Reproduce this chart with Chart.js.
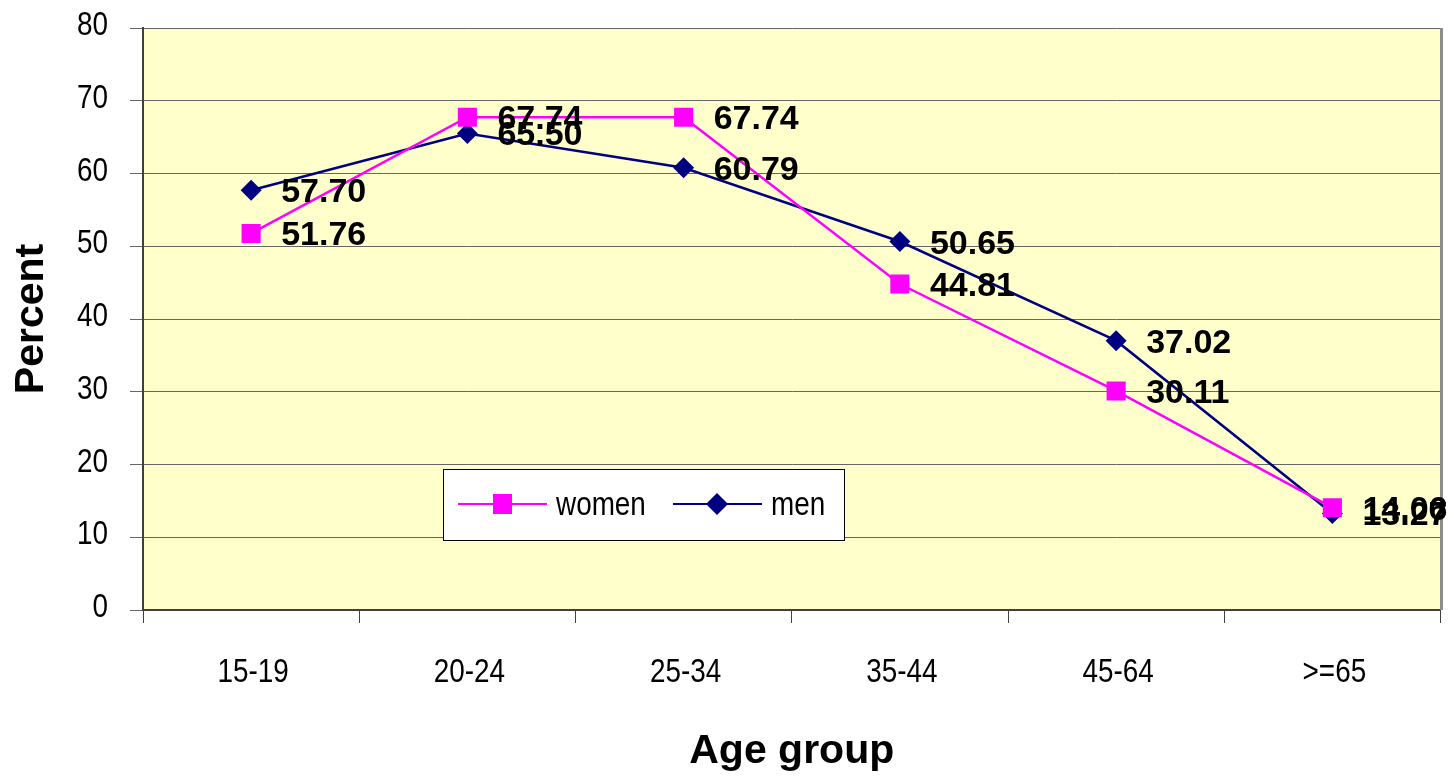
<!DOCTYPE html>
<html>
<head>
<meta charset="utf-8">
<script src="https://cdn.jsdelivr.net/npm/chart.js@4.4.1/dist/chart.umd.min.js"></script>
<style>
    html, body { margin: 0; padding: 0; background: #ffffff; }
    #wrap { width: 1454px; height: 776px; position: relative; }
</style>
</head>
<body>
<div id="wrap"><canvas id="ageChart" width="1454" height="776"></canvas></div>
<script>
const ageGroups = ['15-19', '20-24', '25-34', '35-44', '45-64', '>=65'];
const womenValues = [51.76, 67.74, 67.74, 44.81, 30.11, 14.06];
const menValues = [57.70, 65.50, 60.79, 50.65, 37.02, 13.27];
const yTicks = [0, 10, 20, 30, 40, 50, 60, 70, 80];

const boldFont = '"Liberation Sans", Arial, sans-serif';

// police étroite : Liberation Sans Narrow si présente, sinon Liberation Sans compressée
const probe = document.createElement('canvas').getContext('2d');
probe.font = '34px "Liberation Sans Narrow", monospace';
const wNarrow = probe.measureText('15-19 women').width;
probe.font = '34px monospace';
const wMono = probe.measureText('15-19 women').width;
const hasNarrow = Math.abs(wNarrow - wMono) > 0.5;
const narrowFace = hasNarrow ? '"Liberation Sans Narrow"' : '"Liberation Sans", Arial';
const narrowScale = hasNarrow ? 1 : 0.82;

function narrowText(ctx, text, x, y, align, size) {
    ctx.save();
    ctx.font = size + 'px ' + narrowFace + ', sans-serif';
    ctx.textAlign = align;
    ctx.textBaseline = 'alphabetic';
    ctx.translate(x, y);
    ctx.scale(narrowScale, 1);
    ctx.fillText(text, 0, 0);
    ctx.restore();
}

// fond jaune + bordure droite de la zone de tracé
const plotBackground = {
    id: 'plotBackground',
    beforeDraw(chart) {
        const { ctx, chartArea: a } = chart;
        ctx.save();
        ctx.fillStyle = '#ffffcc';
        ctx.fillRect(a.left, a.top, a.right - a.left, a.bottom - a.top);
        ctx.restore();
    },
    afterDatasetsDraw(chart) {
        const { ctx, chartArea: a } = chart;
        ctx.save();
        ctx.strokeStyle = '#8c8c8c';
        ctx.lineWidth = 3;
        ctx.beginPath();
        ctx.moveTo(a.right + 1, a.top);
        ctx.lineTo(a.right + 1, a.bottom);
        ctx.stroke();
        ctx.restore();
    }
};

// libellés des axes en police étroite
const tickLabels = {
    id: 'tickLabels',
    afterDraw(chart) {
        const ctx = chart.ctx;
        const xs = chart.scales.x, ys = chart.scales.y;
        ctx.save();
        ctx.fillStyle = '#000000';
        yTicks.forEach(v => {
            narrowText(ctx, String(v), xs.left - 35, ys.getPixelForValue(v) + 7, 'right', 34);
        });
        chart.data.labels.forEach((lab, i) => {
            narrowText(ctx, lab, xs.getPixelForValue(i) + 2, xs.top + 72, 'center', 34);
        });
        ctx.restore();
    }
};

// étiquettes de valeurs à droite des points
const valueLabels = {
    id: 'valueLabels',
    afterDatasetsDraw(chart) {
        const ctx = chart.ctx;
        ctx.save();
        ctx.font = 'bold 34px ' + boldFont;
        ctx.fillStyle = '#000000';
        ctx.textAlign = 'left';
        ctx.textBaseline = 'alphabetic';
        chart.data.datasets.forEach((ds, i) => {
            const meta = chart.getDatasetMeta(i);
            meta.data.forEach((pt, j) => {
                ctx.fillText(ds.data[j].toFixed(2), pt.x + 30, pt.y + 12);
            });
        });
        ctx.restore();
    }
};

// légende encadrée dans la zone de tracé
const boxLegend = {
    id: 'boxLegend',
    afterDraw(chart) {
        const { ctx, chartArea: a } = chart;
        const x = a.left + 300, y = a.top + 441, w = 401, h = 71;
        ctx.save();
        ctx.fillStyle = '#ffffff';
        ctx.fillRect(x, y, w, h);
        ctx.strokeStyle = '#000000';
        ctx.lineWidth = 1;
        ctx.strokeRect(x + 0.5, y + 0.5, w, h);
        const cy = y + 35;
        const items = [
            { ds: chart.data.datasets[0], x0: x + 15 },
            { ds: chart.data.datasets[1], x0: x + 230 }
        ];
        items.forEach(it => {
            ctx.strokeStyle = it.ds.borderColor;
            ctx.lineWidth = 2;
            ctx.beginPath();
            ctx.moveTo(it.x0, cy);
            ctx.lineTo(it.x0 + 89, cy);
            ctx.stroke();
            ctx.fillStyle = it.ds.backgroundColor;
            const mx = it.x0 + 44;
            if (it.ds.pointStyle === 'rect') {
                ctx.fillRect(mx - 9, cy - 10, 19, 20);
            } else {
                ctx.beginPath();
                ctx.moveTo(mx, cy - 11);
                ctx.lineTo(mx + 11, cy);
                ctx.lineTo(mx, cy + 11);
                ctx.lineTo(mx - 11, cy);
                ctx.closePath();
                ctx.fill();
            }
            ctx.fillStyle = '#000000';
            narrowText(ctx, it.ds.label, it.x0 + 98, cy + 11, 'left', 34);
        });
        ctx.restore();
    }
};

const ctx = document.getElementById('ageChart').getContext('2d');
const ageChart = new Chart(ctx, {
    type: 'line',
    data: {
        labels: ageGroups,
        datasets: [{
            label: 'women',
            data: womenValues,
            borderColor: '#ff00ff',
            backgroundColor: '#ff00ff',
            borderWidth: 2.5,
            pointStyle: 'rect',
            pointRadius: 13.5,
            pointBorderWidth: 0,
            tension: 0
        }, {
            label: 'men',
            data: menValues,
            borderColor: '#000080',
            backgroundColor: '#000080',
            borderWidth: 2.5,
            pointStyle: 'rectRot',
            pointRadius: 10.5,
            pointBorderWidth: 0,
            tension: 0
        }]
    },
    options: {
        responsive: false,
        animation: false,
        events: [],
        layout: { padding: { top: 28, right: 11, left: 0, bottom: 0 } },
        plugins: {
            legend: { display: false },
            tooltip: { enabled: false }
        },
        scales: {
            x: {
                offset: true,
                grid: {
                    offset: true,
                    drawOnChartArea: false,
                    drawTicks: true,
                    tickLength: 13,
                    color: '#404040'
                },
                border: { color: '#404040', width: 2 },
                ticks: { display: false },
                title: {
                    display: true,
                    text: 'Age group',
                    color: '#000000',
                    font: { family: boldFont, size: 41, weight: 'bold' },
                    padding: { top: 0, bottom: 0 }
                },
                afterFit(scale) { scale.height = 166; }
            },
            y: {
                min: 0,
                max: 80,
                afterBuildTicks(scale) { scale.ticks = yTicks.map(v => ({ value: v })); },
                grid: {
                    color: '#666666',
                    lineWidth: 1,
                    tickLength: 13,
                    drawTicks: true
                },
                border: { color: '#404040', width: 2 },
                ticks: { display: false },
                title: {
                    display: true,
                    text: 'Percent',
                    color: '#000000',
                    font: { family: boldFont, size: 41, weight: 'bold' },
                    padding: { top: 7, bottom: 0 }
                },
                afterFit(scale) { scale.width = 143; }
            }
        }
    },
    plugins: [plotBackground, valueLabels, tickLabels, boxLegend]
});
</script>
</body>
</html>
